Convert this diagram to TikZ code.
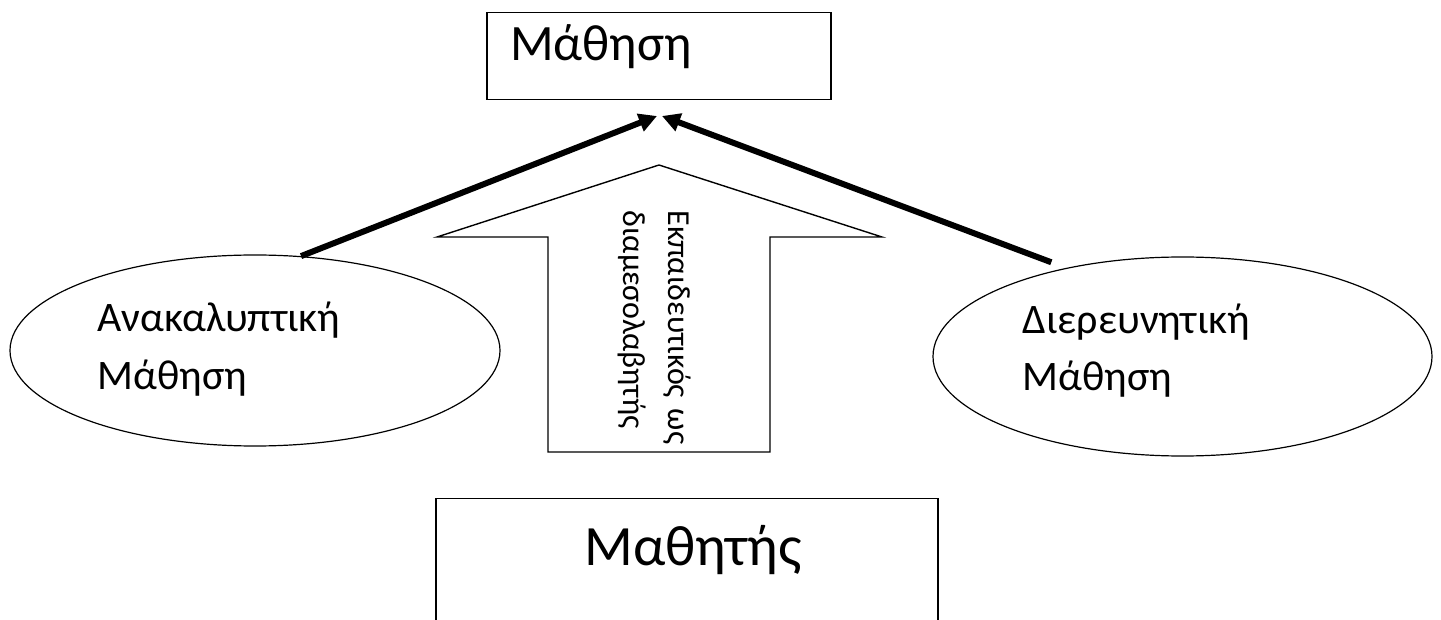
\documentclass[tikz,border=0pt]{standalone}
\usepackage{fontspec}
\setmainfont{Carlito}
\usetikzlibrary{arrows.meta,shapes.geometric}

\begin{document}
\begin{tikzpicture}[x=0.5pt, y=-0.5pt,
  box/.style={draw, line width=0.6pt, inner ysep=0pt},
  oval/.style={draw, ellipse, line width=0.6pt, inner sep=0pt},
  lbl/.style={text width=140pt, align=left, inner sep=0pt, font=\fontsize{21}{28.5}\selectfont},
  arr/.style={-{Triangle[length=9pt,width=9pt]}, line width=3pt},
]
\useasboundingbox (0,0) rectangle (1441,620);
\clip (0,0) rectangle (1441,620);
% boxes
\node[box, anchor=north, text width=149pt, inner xsep=11.5pt, align=left,
  font=\fontsize{25.5}{30}\selectfont, text height=24pt, text depth=19.5pt] (mathisi) at (659,12) {Μάθηση};
\node[box, anchor=north, text width=251pt, inner xsep=0pt, align=center,
  font=\fontsize{28.5}{34}\selectfont, text height=33.5pt, text depth=37.5pt] (mathitis) at (687,498) {\hspace*{6pt}Μαθητής};
% ovals
\node[oval, minimum width=245pt, minimum height=95.5pt] (anak) at (255,350.5) {};
\node[oval, minimum width=249.5pt, minimum height=99.5pt] (dier) at (1182.5,356.5) {};
\node[lbl, anchor=base west] (anaktxt) at (97,332) {Ανακαλυπτική\\Μάθηση};
\node[lbl, anchor=base west] (diertxt) at (1022,334) {Διερευνητική\\Μάθηση};
% block arrow
\draw[line width=0.7pt] (659,165) -- (882,237) -- (770,237) -- (770,452) -- (548,452) -- (548,237) -- (437,237) -- cycle;
\node[lbl, rotate=-90, anchor=base west, font=\fontsize{16}{22.5}\selectfont] (mesol) at (668,210) {Εκπαιδευτικός ως\\διαμεσολαβητής};
% arrows
\coordinate (tipL) at (657,116);
\coordinate (tipR) at (662,116);
\draw[arr] (anak.64) -- (tipL);
\draw[arr] ([yshift=4.5pt]dier.147) -- (tipR);
\end{tikzpicture}
\end{document}
